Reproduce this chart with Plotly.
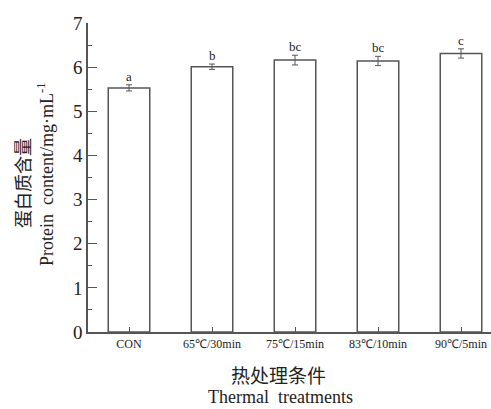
import plotly.graph_objects as go

categories = ["CON", "65℃/30min", "75℃/15min", "83℃/10min", "90℃/5min"]
protein = [5.53, 6.01, 6.16, 6.14, 6.31]
errors = [0.07, 0.06, 0.11, 0.105, 0.105]
letters = ["a", "b", "bc", "bc", "c"]
y_ticks = [0, 1, 2, 3, 4, 5, 6, 7]

W, H = 491, 409
L, R, T, B = 88, 0, 23, 77
pw = W - L - R
ph = H - T - B

serif = "Liberation Serif, Times New Roman, serif"
cjk = "Noto Sans CJK SC, serif"
axc = "#555555"
txt = "#222222"

fig = go.Figure()
fig.add_trace(go.Bar(
    x=list(range(len(categories))), y=protein, width=0.5,
    marker=dict(color="white", line=dict(color=axc, width=1.5)),
    error_y=dict(type="data", array=errors, visible=True, color=axc, thickness=1, width=3),
    showlegend=False,
))

for i, (v, e, t) in enumerate(zip(protein, errors, letters)):
    fig.add_annotation(x=i, y=v + e, text=t, showarrow=False, yanchor="bottom",
                       yshift=-1, font=dict(family=serif, size=13, color=txt))

def pxx(xp):
    return (xp - L) / pw

def pxy(yp):
    return (H - B - yp) / ph

fig.add_annotation(x=pxx(278), y=pxy(374), xref="paper", yref="paper", text="热处理条件",
                   showarrow=False, xanchor="center", yanchor="middle",
                   font=dict(family=cjk, size=19, color=txt))
fig.add_annotation(x=pxx(280), y=pxy(397), xref="paper", yref="paper", text="Thermal  treatments",
                   showarrow=False, xanchor="center", yanchor="middle",
                   font=dict(family=serif, size=18, color=txt))
fig.add_annotation(x=pxx(22), y=pxy(183), xref="paper", yref="paper", text="蛋白质含量",
                   showarrow=False, textangle=-90, xanchor="center", yanchor="middle",
                   font=dict(family=cjk, size=18, color=txt))
fig.add_annotation(x=pxx(45), y=pxy(175), xref="paper", yref="paper",
                   text="Protein  content/mg·mL<sup>-1</sup>",
                   showarrow=False, textangle=-90, xanchor="center", yanchor="middle",
                   font=dict(family=serif, size=18, color=txt))

fig.update_layout(
    width=W, height=H, margin=dict(l=L, r=R, t=T, b=B),
    paper_bgcolor="white", plot_bgcolor="white",
    bargap=0.5,
    xaxis=dict(range=[(L - 129) / 83, (W - 129) / 83], tickmode="array",
               tickvals=list(range(len(categories))), ticktext=categories,
               ticks="inside", ticklen=5, tickcolor=axc, showline=True, linecolor=axc,
               linewidth=1.5, showgrid=False, zeroline=False,
               tickfont=dict(family=serif, size=12, color=txt)),
    yaxis=dict(range=[0, 7], tickvals=y_ticks, ticks="inside", ticklen=9, tickcolor=axc,
               showline=True, linecolor=axc, linewidth=1.5, showgrid=False, zeroline=False,
               tickfont=dict(family=serif, size=19, color=txt),
               minor=dict(dtick=0.5, ticks="inside", ticklen=4, tickcolor=axc, showgrid=False)),
)

fig.write_html("out.html")
